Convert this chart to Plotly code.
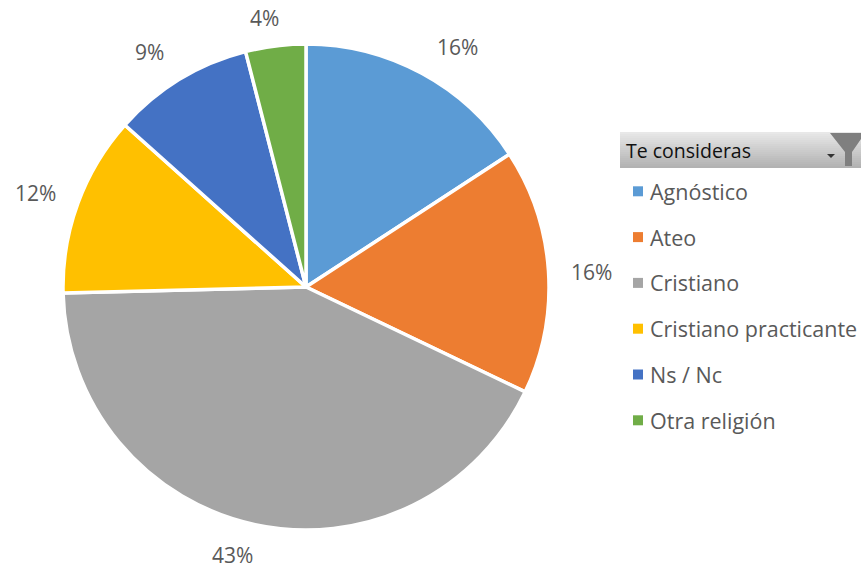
import plotly.graph_objects as go

labels = ["Agnóstico", "Ateo", "Cristiano", "Cristiano practicante", "Ns / Nc", "Otra religión"]
values = [15.8, 16.3, 42.51, 12.0, 9.39, 4.0]
colors = ["#5B9BD5", "#ED7D31", "#A5A5A5", "#FFC000", "#4472C4", "#70AD47"]
legend_title = "Te consideras"
label_pos = [(458, 47), (591, 272), (232, 555), (35, 193), (149, 52), (264, 18)]

FONT = "Open Sans"
W, H = 861, 569
cx, cy, r = 306, 287, 243


def px(x):
    return x / W


def py(y):
    return 1 - y / H


fig = go.Figure(go.Pie(
    labels=labels, values=values, sort=False, direction="clockwise", rotation=0,
    marker=dict(colors=colors, line=dict(color="white", width=3.5)),
    textinfo="none", hoverinfo="label+percent",
    showlegend=False,
    domain=dict(x=[px(cx - r), px(cx + r)], y=[py(cy + r), py(cy - r)]),
))

shapes = []
# header gradient
n = 18
for i in range(n):
    t = i / (n - 1)
    g = int(232 - t * (232 - 178))
    shapes.append(dict(type="rect", xref="paper", yref="paper", x0=px(620), x1=px(861),
                       y0=py(132 + (i + 1) * 2), y1=py(132 + i * 2),
                       fillcolor=f"rgb({g},{g},{g})", line=dict(width=0), layer="below"))
# funnel icon
pts = [(830, 133), (861, 133), (861, 139), (852, 152), (852, 166), (845, 166), (845, 152)]
shapes.append(dict(type="path", xref="paper", yref="paper",
                   path="M " + " L ".join(f"{px(x)} {py(y)}" for x, y in pts) + " Z",
                   fillcolor="#7F7F7F", line=dict(width=0)))
arrow = [(827, 154), (835, 154), (831, 158)]
shapes.append(dict(type="path", xref="paper", yref="paper",
                   path="M " + " L ".join(f"{px(x)} {py(y)}" for x, y in arrow) + " Z",
                   fillcolor="#333333", line=dict(width=0)))

anns = [dict(x=px(626), y=py(150), xref="paper", yref="paper", text=legend_title, showarrow=False,
             xanchor="left", yanchor="middle", xshift=-2,
             font=dict(family=FONT, size=19.5, color="#111111"))]
for i, (l, c) in enumerate(zip(labels, colors)):
    yc = 191.3 + i * 45.8
    shapes.append(dict(type="rect", xref="paper", yref="paper", x0=px(633), x1=px(643),
                       y0=py(yc + 5), y1=py(yc - 5), fillcolor=c, line=dict(width=0)))
    anns.append(dict(x=px(650), y=py(yc), xref="paper", yref="paper", text=l, showarrow=False,
                     xanchor="left", yanchor="middle", xshift=-2,
                     font=dict(family=FONT, size=21.5, color="#595959")))
for v, (x, y) in zip(values, label_pos):
    anns.append(dict(x=px(x), y=py(y), xref="paper", yref="paper", text=f"{round(v)}%", showarrow=False,
                     xanchor="center", yanchor="middle",
                     font=dict(family=FONT, size=21, color="#595959")))

fig.update_layout(width=W, height=H, margin=dict(l=0, r=0, t=0, b=0),
                  paper_bgcolor="white", shapes=shapes, annotations=anns)
fig.write_html("out.html", config=dict(displayModeBar=False),
               post_script="document.body.style.margin='0';document.body.style.overflow='hidden';")
